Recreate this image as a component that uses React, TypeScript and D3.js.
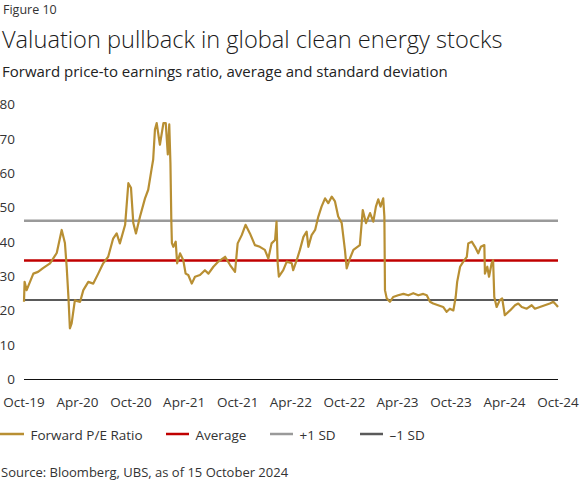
import React, { useEffect, useRef } from 'react';
import * as d3 from 'd3';

// Forward P/E ratio
const peDates = [
  '2019-10-15', '2019-10-17', '2019-10-24', '2019-11-16', '2019-12-02', '2019-12-19',
  '2020-01-12', '2020-02-04', '2020-02-21', '2020-03-03', '2020-03-09', '2020-03-15',
  '2020-03-20', '2020-03-26', '2020-04-06', '2020-04-24', '2020-05-05', '2020-05-22',
  '2020-06-08', '2020-06-25', '2020-07-12', '2020-07-29', '2020-08-15', '2020-08-27',
  '2020-09-07', '2020-09-25', '2020-10-06', '2020-10-15', '2020-10-23', '2020-11-01',
  '2020-11-15', '2020-12-02', '2020-12-13', '2020-12-25', '2020-12-30', '2021-01-05',
  '2021-01-11', '2021-01-22', '2021-02-03', '2021-02-11', '2021-02-18', '2021-02-23',
  '2021-02-27', '2021-03-02', '2021-03-04', '2021-03-09', '2021-03-17', '2021-03-22',
  '2021-04-01', '2021-04-12', '2021-04-20', '2021-04-29', '2021-05-11', '2021-05-22',
  '2021-06-08', '2021-06-25', '2021-07-07', '2021-07-24', '2021-08-10', '2021-09-02',
  '2021-09-19', '2021-10-06', '2021-10-15', '2021-10-29', '2021-11-11', '2021-11-26',
  '2021-12-13', '2021-12-30', '2022-01-16', '2022-01-28', '2022-02-08', '2022-02-20',
  '2022-02-25', '2022-03-01', '2022-03-05', '2022-03-20', '2022-04-01', '2022-04-18',
  '2022-04-23', '2022-05-05', '2022-05-16', '2022-05-28', '2022-06-08', '2022-06-14',
  '2022-06-25', '2022-07-07', '2022-07-18', '2022-07-29', '2022-08-10', '2022-08-21',
  '2022-09-02', '2022-09-13', '2022-09-24', '2022-10-06', '2022-10-17', '2022-10-23',
  '2022-11-03', '2022-11-15', '2022-12-07', '2022-12-17', '2022-12-28', '2023-01-11',
  '2023-01-22', '2023-01-31', '2023-02-08', '2023-02-16', '2023-02-25', '2023-03-01',
  '2023-03-03', '2023-03-09', '2023-03-20', '2023-03-31', '2023-04-17', '2023-05-05',
  '2023-05-22', '2023-06-08', '2023-06-25', '2023-07-12', '2023-07-24', '2023-08-04',
  '2023-08-15', '2023-09-01', '2023-09-18', '2023-09-30', '2023-10-11', '2023-10-23',
  '2023-10-31', '2023-11-05', '2023-11-15', '2023-11-26', '2023-12-08', '2023-12-13',
  '2023-12-25', '2024-01-05', '2024-01-16', '2024-01-25', '2024-02-06', '2024-02-08',
  '2024-02-16', '2024-02-22', '2024-03-02', '2024-03-07', '2024-03-11', '2024-03-19',
  '2024-03-30', '2024-04-07', '2024-04-16', '2024-05-04', '2024-05-21', '2024-06-01',
  '2024-06-13', '2024-06-30', '2024-07-17', '2024-07-28', '2024-08-14', '2024-08-31',
  '2024-09-17', '2024-09-29', '2024-10-10', '2024-10-15',
];

const peValues = [
  22.6, 28.4, 26.0, 30.8, 31.3, 32.4,
  33.8, 36.8, 43.5, 39.7, 32.8, 24.0,
  14.9, 16.3, 23.0, 22.6, 26.0, 28.4,
  27.9, 30.8, 33.8, 35.7, 41.0, 42.5,
  39.6, 45.0, 57.1, 55.8, 45.5, 42.5,
  47.4, 52.7, 55.2, 61.5, 64.0, 72.7,
  74.6, 68.3, 74.6, 74.6, 65.5, 74.2,
  63.0, 46.4, 39.7, 38.6, 40.1, 33.8,
  36.7, 34.7, 30.8, 30.4, 27.9, 29.9,
  30.4, 31.8, 30.8, 32.8, 34.3, 35.7,
  33.3, 31.3, 39.6, 42.0, 45.0, 42.5,
  39.1, 38.6, 37.7, 35.2, 39.6, 40.6,
  45.9, 33.8, 29.9, 31.8, 34.3, 33.8,
  31.8, 34.7, 37.7, 41.5, 43.0, 38.6,
  42.0, 43.5, 47.4, 50.3, 52.7, 51.3,
  53.2, 51.8, 47.4, 45.5, 37.7, 32.3,
  35.2, 37.7, 39.1, 49.3, 45.5, 48.4,
  45.9, 50.3, 52.4, 50.3, 52.7, 47.4,
  26.0, 23.6, 22.6, 24.0, 24.5, 24.9,
  24.5, 25.1, 24.5, 24.9, 24.5, 22.6,
  22.1, 21.6, 21.1, 19.7, 20.6, 20.1,
  24.0, 28.4, 32.8, 34.3, 35.7, 39.6,
  40.1, 38.6, 36.7, 38.6, 39.1, 30.8,
  32.8, 29.9, 33.8, 34.7, 24.0, 21.1,
  23.1, 23.6, 18.7, 20.1, 21.6, 22.1,
  21.1, 20.6, 21.6, 20.6, 21.1, 21.6,
  22.1, 22.6, 21.6, 21.1,
];

const averageValue = 34.6;
const plusOneSd = 46.2;
const minusOneSd = 23.1;

const xTickDates = [
  '2019-10-15', '2020-04-15', '2020-10-15', '2021-04-15', '2021-10-15', '2022-04-15',
  '2022-10-15', '2023-04-15', '2023-10-15', '2024-04-15', '2024-10-15',
];
const xTickLabels = [
  'Oct-19', 'Apr-20', 'Oct-20', 'Apr-21', 'Oct-21', 'Apr-22',
  'Oct-22', 'Apr-23', 'Oct-23', 'Apr-24', 'Oct-24',
];
const yTicks = [0, 10, 20, 30, 40, 50, 60, 70, 80];

const legendItems = [
  { label: 'Forward P/E Ratio', color: '#b88f33' },
  { label: 'Average', color: '#c00000' },
  { label: '+1 SD', color: '#9a9a9a' },
  { label: '\u20131 SD', color: '#5a5a5a' },
];

const FONT = '"Open Sans", "Noto Sans", sans-serif';

const PEChart: React.FC = () => {
  const svgRef = useRef<SVGSVGElement>(null);

  useEffect(() => {
    if (!svgRef.current) return;
    document.body.style.margin = '0';

    const width = 580;
    const height = 481;
    const margin = { top: 104.5, right: 22, bottom: 101.5, left: 24 };

    d3.select(svgRef.current).selectAll('*').remove();

    const svg = d3.select(svgRef.current)
      .attr('width', width)
      .attr('height', height)
      .style('font-family', FONT);

    const parse = d3.utcParse('%Y-%m-%d');
    const data = peDates.map((d, i) => ({ date: parse(d) as Date, value: peValues[i] }));

    const x = d3.scaleUtc()
      .domain([parse('2019-10-15') as Date, parse('2024-10-15') as Date])
      .range([margin.left, width - margin.right]);

    const y = d3.scaleLinear()
      .domain([0, 80])
      .range([height - margin.bottom, margin.top]);

    // Headings
    svg.append('text')
      .attr('x', 3).attr('y', 14)
      .attr('font-size', 12.5)
      .attr('fill', '#333')
      .text('Figure 10');

    svg.append('text')
      .attr('x', 2).attr('y', 47.5)
      .attr('font-size', 23.6)
      .attr('font-weight', 300)
      .attr('fill', '#1a1a1a')
      .text('Valuation pullback in global clean energy stocks');

    svg.append('text')
      .attr('x', 2).attr('y', 77)
      .attr('font-size', 15)
      .attr('fill', '#222')
      .text('Forward price-to earnings ratio, average and standard deviation');

    // Y tick labels
    svg.append('g')
      .selectAll('text')
      .data(yTicks)
      .enter().append('text')
      .attr('x', 15)
      .attr('y', d => y(d))
      .attr('dy', '0.35em')
      .attr('text-anchor', 'end')
      .attr('font-size', 13.5)
      .attr('fill', '#333')
      .text(d => d);

    // X tick labels
    svg.append('g')
      .selectAll('text')
      .data(xTickDates)
      .enter().append('text')
      .attr('x', d => x(parse(d) as Date))
      .attr('y', 406.5)
      .attr('text-anchor', 'middle')
      .attr('font-size', 13.5)
      .attr('fill', '#333')
      .text((d, i) => xTickLabels[i]);

    // Zero axis
    svg.append('line')
      .attr('x1', x.range()[0]).attr('x2', x.range()[1])
      .attr('y1', y(0)).attr('y2', y(0))
      .attr('stroke', '#111')
      .attr('stroke-width', 1);

    // Reference lines
    const refs = [
      { value: plusOneSd, color: legendItems[2].color, w: 2.5 },
      { value: averageValue, color: legendItems[1].color, w: 2.5 },
      { value: minusOneSd, color: legendItems[3].color, w: 2 },
    ];
    svg.append('g')
      .selectAll('line')
      .data(refs)
      .enter().append('line')
      .attr('x1', x.range()[0]).attr('x2', x.range()[1])
      .attr('y1', d => y(d.value)).attr('y2', d => y(d.value))
      .attr('stroke', d => d.color)
      .attr('stroke-width', d => d.w);

    // P/E line
    const line = d3.line<{ date: Date; value: number }>()
      .x(d => x(d.date))
      .y(d => y(d.value));

    svg.append('path')
      .datum(data)
      .attr('d', line)
      .attr('fill', 'none')
      .attr('stroke', legendItems[0].color)
      .attr('stroke-width', 2.2)
      .attr('stroke-linejoin', 'round');

    // Legend
    const legendX = [0, 166, 270, 360];
    const legend = svg.append('g');
    legendItems.forEach((item, i) => {
      const lx = legendX[i];
      const segLen = i === 0 ? 24 : 23;
      legend.append('line')
        .attr('x1', lx).attr('x2', lx + segLen)
        .attr('y1', 434).attr('y2', 434)
        .attr('stroke', item.color)
        .attr('stroke-width', 2.5);
      legend.append('text')
        .attr('x', lx + segLen + 6.5)
        .attr('y', 439.5)
        .attr('font-size', 13.5)
        .attr('fill', '#333')
        .text(item.label);
    });

    // Source
    svg.append('text')
      .attr('x', 1).attr('y', 476.5)
      .attr('font-size', 13)
      .attr('fill', '#333')
      .text('Source: Bloomberg, UBS, as of 15 October 2024');
  }, []);

  return <svg ref={svgRef}></svg>;
};

export default function App() {
  return <PEChart />;
}
